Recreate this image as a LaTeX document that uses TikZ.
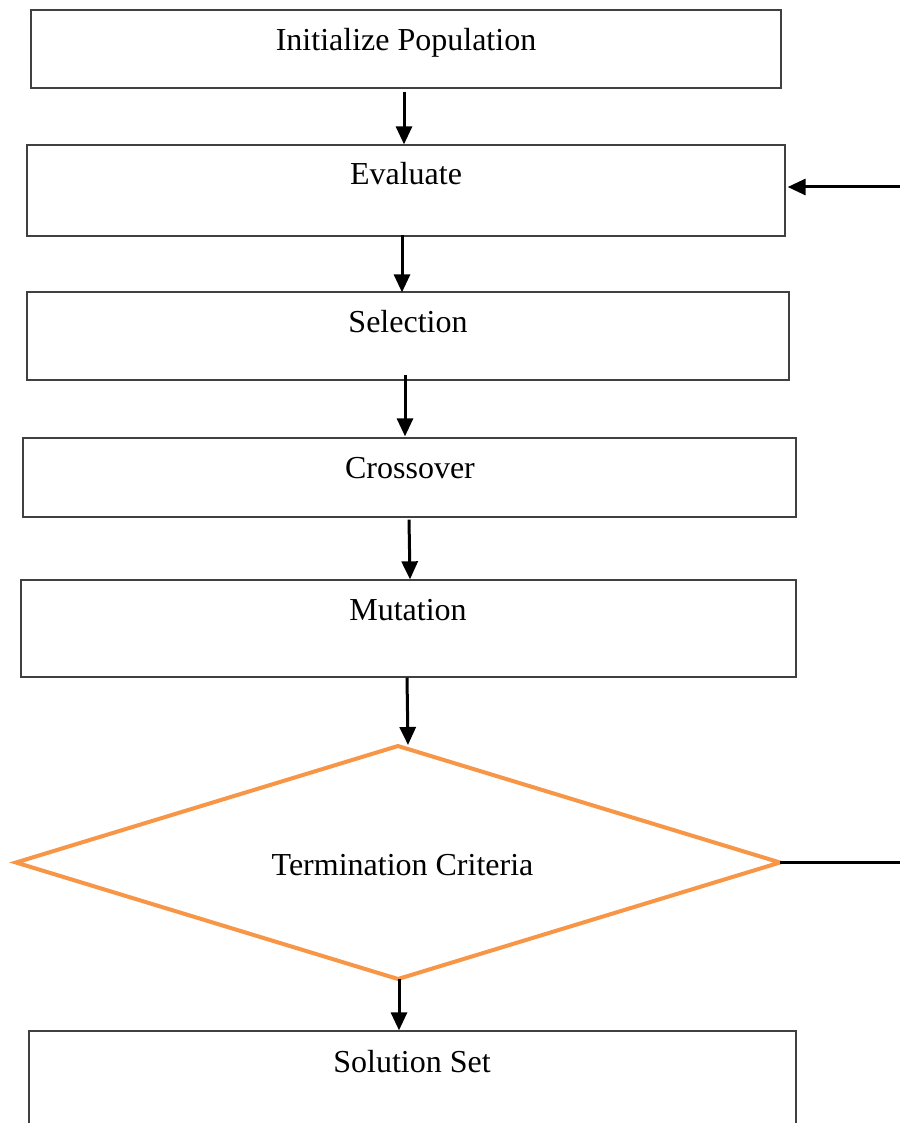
\documentclass[tikz,border=0pt]{standalone}
\usepackage{fontspec}
\setmainfont{Liberation Serif}
\usetikzlibrary{shapes.geometric,arrows.meta,calc}
\definecolor{dorange}{HTML}{F79646}
\tikzset{
  box/.style={draw=black!75, line width=1.3pt, rectangle, inner sep=0pt},
  boxtext/.style={anchor=base, inner sep=0pt, font=\fontsize{32}{38}\selectfont},
  decision/.style={draw=dorange, diamond, inner sep=0pt, outer sep=0pt, line width=4pt},
  arr/.style={line width=3pt, -{Triangle[length=18pt,width=16pt]}},
  plain/.style={line width=3pt}
}
\begin{document}
\begin{tikzpicture}[x=1pt,y=-1pt]
\useasboundingbox (0,0) rectangle (900,1123);
\fill[white] (0,0) rectangle (900,1123);
\clip (0,0) rectangle (900,1123);
% boxes
\node[box, minimum width=750pt, minimum height=78pt] (b1) at (406,49) {};
\node[box, minimum width=758pt, minimum height=91pt] (b2) at (406,190.5) {};
\node[box, minimum width=762pt, minimum height=88pt] (b3) at (408,336) {};
\node[box, minimum width=773pt, minimum height=79pt] (b4) at (409.5,477.5) {};
\node[box, minimum width=775pt, minimum height=97pt] (b5) at (408.5,628.5) {};
\node[decision, minimum width=764pt, minimum height=233pt] (d) at (398,862.5) {};
\node[box, minimum width=767pt, minimum height=140pt] (b7) at (412.5,1101) {};
% texts
\node[boxtext] (t1) at (406,51) {Initialize Population};
\node[boxtext] (t2) at (406,185) {Evaluate};
\node[boxtext] (t3) at (408,332) {Selection};
\node[boxtext] (t4) at (410,478) {Crossover};
\node[boxtext] (t5) at (408,620) {Mutation};
\node[boxtext] (t6) at (402.5,875) {Termination Criteria};
\node[boxtext] (t7) at (412,1072) {Solution Set};
% connectors
\draw[arr] ($(b1.south)+(-2,3)$) -- ($(b2.north)+(-2,0)$);
\draw[arr] ($(b2.south)+(-4,-2)$) -- ($(b3.north)+(-6,1)$);
\draw[arr] ($(b3.south)+(-3,-6)$) -- ($(b4.north)+(-4.5,-1)$);
\draw[arr] ($(b4.south)+(-0.5,2)$) -- ($(b5.north)+(1.5,0)$);
\draw[arr] ($(b5.south)+(-1.5,0)$) -- ($(d.north)+(10,-1)$);
\draw[arr] ($(d.south)+(1,0)$) -- ($(b7.north)+(-13.5,0)$);
\coordinate (fb) at (900,187);
\draw[arr] (fb) -- ($(b2.east)+(2,-3.5)$);
\coordinate (fd) at (900,862.5);
\draw[plain] (d.east) -- (fd);
\end{tikzpicture}
\end{document}
